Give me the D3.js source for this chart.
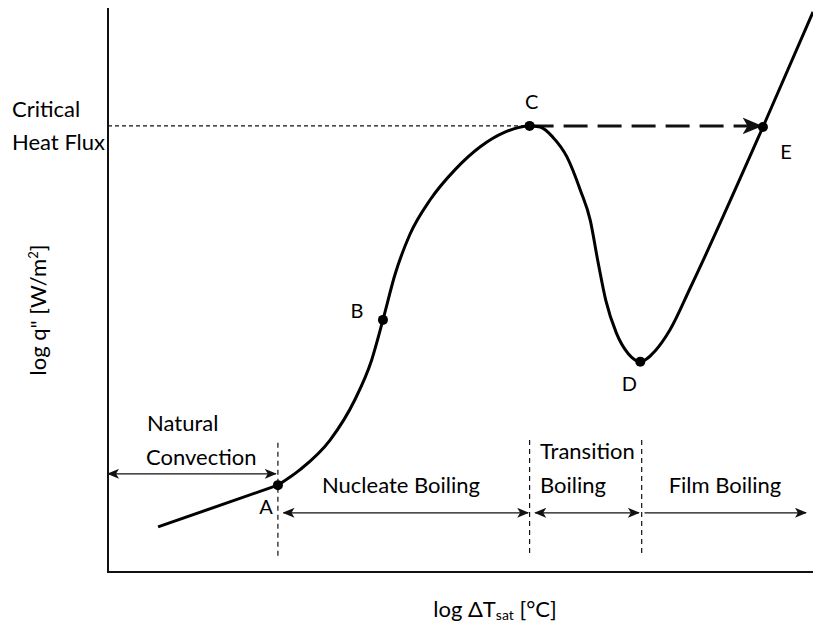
<!DOCTYPE html>
<html>
<head>
<meta charset="utf-8">
<script src="https://cdn.jsdelivr.net/npm/d3@7"></script>
<style>
  html, body { margin: 0; padding: 0; background: #fff; }
  svg text { font-family: Lato, "Open Sans", sans-serif; fill: #000; }
</style>
</head>
<body>
<div id="chart"></div>
<script>
// boiling curve, abstract units 0-100 on both log axes
// first segment (natural convection) is straight, rest is smooth
const convX = [7.1, 24.1]
const convY = [8.0, 15.4]

const curveX = [24.1, 27.2, 31.5, 35.0, 37.4, 39.0, 40.7, 42.8, 45.7, 49.2, 52.8, 56.3, 59.8, 61.3, 63.1, 65.1, 67.0, 68.4, 69.5, 70.6, 72.1, 73.8, 75.5, 77.6, 79.7, 82.6, 92.9, 100]
const curveY = [15.4, 18.1, 23.4, 30.5, 37.6, 44.7, 52.7, 59.8, 66.0, 71.3, 75.4, 78.0, 79.1, 78.9, 77.1, 73.6, 67.7, 62.4, 55.0, 48.2, 42.4, 38.7, 37.3, 39.2, 42.9, 50.4, 78.9, 99.3]

const pointNames = ['A', 'B', 'C', 'D', 'E']
const pointX = [24.1, 39.0, 59.8, 75.5, 92.9]
const pointY = [15.4, 44.7, 79.1, 37.3, 78.9]

// regime boundaries (vertical dashed lines) and regime labels
const boundaryX = [24.1, 59.8, 75.7]
const regimeNames = ['Natural Convection', 'Nucleate Boiling', 'Transition Boiling', 'Film Boiling']
const regimeFrom = [0, 24.9, 60.6, 76.1]
const regimeTo = [23.8, 59.6, 75.3, 99]

const chfY = 79.1

document.addEventListener("DOMContentLoaded", function() {

    const width = 813
    const height = 626

    const svg = d3.select('#chart').append('svg')
        .attr('width', width)
        .attr('height', height)

    const x = d3.scaleLinear().domain([0, 100]).range([108, 813])
    const y = d3.scaleLinear().domain([0, 100]).range([572, 8])

    const defs = svg.append('defs')
    defs.append('marker')
        .attr('id', 'head')
        .attr('viewBox', '0 0 12 10')
        .attr('refX', 11).attr('refY', 5)
        .attr('markerWidth', 12).attr('markerHeight', 10)
        .attr('markerUnits', 'userSpaceOnUse')
        .attr('orient', 'auto-start-reverse')
        .append('path')
        .attr('d', 'M0,0 L12,5 L0,10 L3,5 Z')
        .attr('fill', '#111')
    defs.append('marker')
        .attr('id', 'bighead')
        .attr('viewBox', '0 0 12 10')
        .attr('refX', 11).attr('refY', 5)
        .attr('markerWidth', 20).attr('markerHeight', 17)
        .attr('markerUnits', 'userSpaceOnUse')
        .attr('orient', 'auto')
        .append('path')
        .attr('d', 'M0,0 L12,5 L0,10 L3,5 Z')
        .attr('fill', '#111')

    // axes (no ticks)
    svg.append('line')
        .attr('x1', x(0)).attr('x2', x(0))
        .attr('y1', y(100)).attr('y2', y(0))
        .attr('stroke', '#111').attr('stroke-width', 2)
    svg.append('line')
        .attr('x1', x(0) - 1).attr('x2', x(100))
        .attr('y1', y(0)).attr('y2', y(0))
        .attr('stroke', '#111').attr('stroke-width', 2)

    // critical heat flux dotted guide
    svg.append('line')
        .attr('x1', x(0)).attr('x2', x(pointX[2]))
        .attr('y1', y(chfY)).attr('y2', y(chfY))
        .attr('stroke', '#111').attr('stroke-width', 1.2)
        .attr('stroke-dasharray', '4,3')

    // dashed jump C -> E
    svg.append('line')
        .attr('x1', x(pointX[2])).attr('x2', x(pointX[4]) - 2)
        .attr('y1', y(chfY)).attr('y2', y(chfY))
        .attr('stroke', '#111').attr('stroke-width', 3)
        .attr('stroke-dasharray', '24,10')
        .attr('marker-end', 'url(#bighead)')

    // boundaries
    svg.selectAll('.boundary')
        .data(boundaryX)
        .enter().append('line')
        .attr('class', 'boundary')
        .attr('x1', d => x(d)).attr('x2', d => x(d))
        .attr('y1', (d, i) => i === 0 ? y(22.9) : y(23.4))
        .attr('y2', y(2.7))
        .attr('stroke', '#111').attr('stroke-width', 1.2)
        .attr('stroke-dasharray', '5,4')

    // the boiling curve
    const straight = d3.line()
        .x(d => x(d[0]))
        .y(d => y(d[1]))
    const smooth = d3.line()
        .x(d => x(d[0]))
        .y(d => y(d[1]))
        .curve(d3.curveMonotoneX)

    svg.append('path')
        .datum(d3.zip(convX, convY))
        .attr('d', straight)
        .attr('fill', 'none')
        .attr('stroke', '#000')
        .attr('stroke-width', 3)

    svg.append('path')
        .datum(d3.zip(curveX, curveY))
        .attr('d', smooth)
        .attr('fill', 'none')
        .attr('stroke', '#000')
        .attr('stroke-width', 3)

    svg.selectAll('.pt')
        .data(pointNames)
        .enter().append('circle')
        .attr('class', 'pt')
        .attr('cx', (d, i) => x(pointX[i]))
        .attr('cy', (d, i) => y(pointY[i]))
        .attr('r', 5)
        .attr('fill', '#000')

    const labelDx = [-12, -26, 2, -11, 23]
    const labelDy = [29, -2, -17, 29, 32]
    svg.selectAll('.ptlabel')
        .data(pointNames)
        .enter().append('text')
        .attr('class', 'ptlabel')
        .attr('x', (d, i) => x(pointX[i]) + labelDx[i])
        .attr('y', (d, i) => y(pointY[i]) + labelDy[i])
        .attr('text-anchor', 'middle')
        .style('font-size', '20px')
        .text(d => d)

    // regime arrows
    const arrowY = [y(17.4), y(10.5), y(10.5), y(10.5)]
    svg.selectAll('.regime')
        .data(regimeNames)
        .enter().append('line')
        .attr('class', 'regime')
        .attr('x1', (d, i) => x(regimeFrom[i]))
        .attr('x2', (d, i) => x(regimeTo[i]))
        .attr('y1', (d, i) => arrowY[i])
        .attr('y2', (d, i) => arrowY[i])
        .attr('stroke', '#111').attr('stroke-width', 1.3)
        .attr('marker-start', (d, i) => i === 3 ? null : 'url(#head)')
        .attr('marker-end', 'url(#head)')

    const textStyle = sel => sel.style('font-size', '22px')

    const nat = svg.append('text').call(textStyle)
    nat.append('tspan').attr('x', 147).attr('y', 431).text('Natural')
    nat.append('tspan').attr('x', 146).attr('y', 465).text('Convection')

    svg.append('text').attr('x', 401).attr('y', 493)
        .attr('text-anchor', 'middle').call(textStyle).text('Nucleate Boiling')

    const tr = svg.append('text').call(textStyle)
    tr.append('tspan').attr('x', 540).attr('y', 459).text('Transition')
    tr.append('tspan').attr('x', 540).attr('y', 493).text('Boiling')

    svg.append('text').attr('x', 725).attr('y', 493)
        .attr('text-anchor', 'middle').call(textStyle).text('Film Boiling')

    const chf = svg.append('text').call(textStyle)
    chf.append('tspan').attr('x', 12).attr('y', 117).text('Critical')
    chf.append('tspan').attr('x', 12).attr('y', 150).text('Heat Flux')

    // axis titles
    const yl = svg.append('text')
        .attr('transform', 'translate(46,310) rotate(-90)')
        .attr('text-anchor', 'middle')
        .call(textStyle)
    yl.append('tspan').text('log q" [W/m')
    yl.append('tspan').attr('dy', -8).style('font-size', '13px').text('2')
    yl.append('tspan').attr('dy', 8).text(']')

    const xl = svg.append('text')
        .attr('x', 495).attr('y', 617)
        .attr('text-anchor', 'middle')
        .call(textStyle)
    xl.append('tspan').text('log ΔT')
    xl.append('tspan').attr('dy', 3).style('font-size', '14px').text('sat')
    xl.append('tspan').attr('dy', -3).text(' [°C]')
});
</script>
</body>
</html>
